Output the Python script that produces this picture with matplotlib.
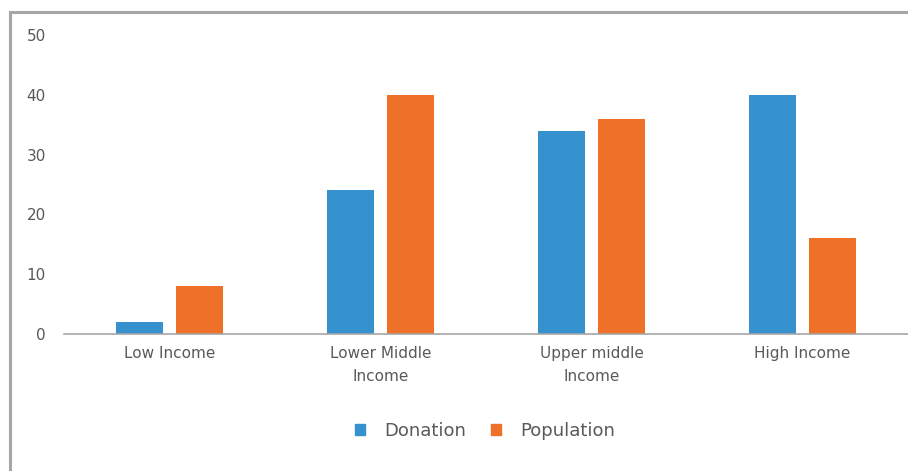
import numpy as np
import matplotlib.pyplot as plt
from matplotlib.patches import Rectangle, Patch

# Data
categories = ['Low Income', 'Lower Middle\nIncome', 'Upper middle\nIncome', 'High Income']
donation = [2, 24, 34, 40]
population = [8, 40, 36, 16]

blue = '#3592CE'
orange = '#EF7028'
text_col = '#595959'

fig = plt.figure(figsize=(9.08, 4.71), dpi=100)
ax = fig.add_axes([0.0705, 0.291, 0.9295, 0.6347])

x = np.arange(len(categories))
w = 0.223
off = 0.143
ax.bar(x - off, donation, w, color=blue, label='Donation')
ax.bar(x + off, population, w, color=orange, label='Population')

ax.set_xlim(-0.5, 3.5)
ax.set_ylim(0, 50)
ax.set_yticks([0, 10, 20, 30, 40, 50])
ax.set_xticks(x)
ax.set_xticklabels(categories, linespacing=1.6)
ax.tick_params(axis='both', length=0, colors=text_col, labelsize=11)
ax.tick_params(axis='y', pad=13)
ax.tick_params(axis='x', pad=9)
for s in ['top', 'right', 'left']:
    ax.spines[s].set_visible(False)
ax.spines['bottom'].set_color('#A6A6A6')
ax.spines['bottom'].set_linewidth(1.2)

# legend below the plot
handles = [Patch(color=blue), Patch(color=orange)]
fig.legend(handles, ['Donation', 'Population'], loc='center', bbox_to_anchor=(0.534, 0.085),
           ncol=2, frameon=False, fontsize=13, labelcolor=text_col,
           handlelength=0.55, handleheight=0.55, handletextpad=1.05, columnspacing=1.4)

# grey outer frame (cut off at right and bottom in the original)
fig.patches.append(Rectangle((10 / 908, -0.1), 1.2, 1 - 12 / 471 + 0.1, transform=fig.transFigure,
                             fill=False, edgecolor='#A6A6A6', linewidth=2.2))

fig.savefig('out.png', dpi=100)
